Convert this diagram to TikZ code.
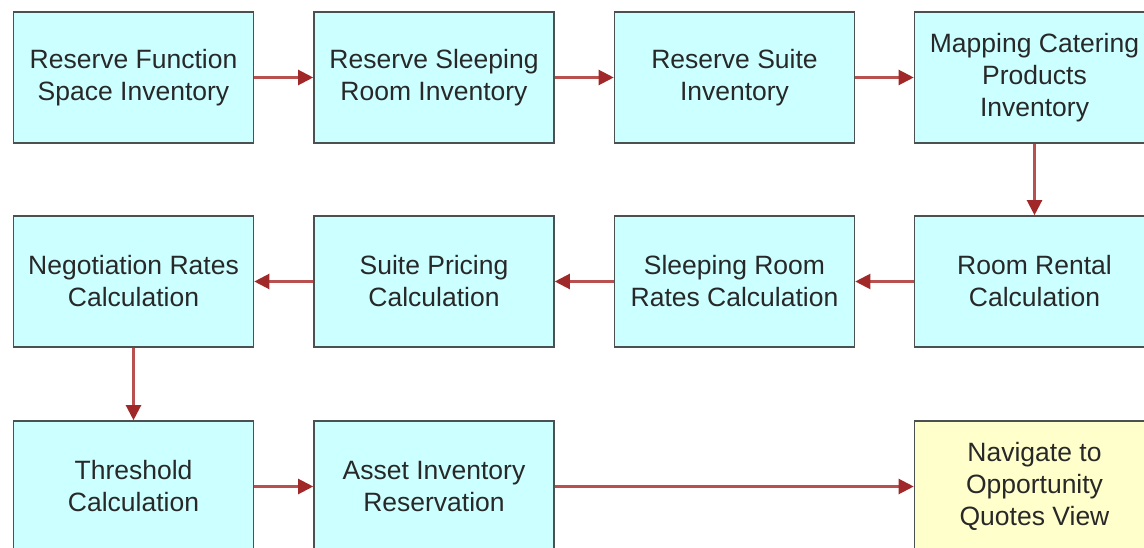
\documentclass[tikz,border=0pt]{standalone}
\usepackage{fontspec}
\setmainfont{Liberation Sans}
\usetikzlibrary{arrows.meta}
\definecolor{boxfill}{RGB}{204,255,255}
\definecolor{endfill}{RGB}{255,255,204}
\definecolor{boxline}{RGB}{75,80,80}
\definecolor{txt}{RGB}{40,40,40}
\definecolor{arrline}{RGB}{185,80,80}
\definecolor{arrhead}{RGB}{160,40,40}
\tikzset{
  stepbox/.style={draw=boxline, line width=1.6pt, fill=boxfill, minimum width=240pt, minimum height=131pt,
    inner sep=0pt, align=center, text=txt, font=\fontsize{26.5pt}{32pt}\selectfont},
  endbox/.style={stepbox, fill=endfill},
  flow/.style={draw=arrline, line width=2.2pt, -{Triangle[length=15pt,width=15pt,color=arrhead]}}
}
\begin{document}
\begin{tikzpicture}[x=1pt,y=-1pt]
\useasboundingbox (0,0) rectangle (1144,548);
\node[stepbox] (a) at (133.5,77.5) {Reserve Function\\Space Inventory};
\node[stepbox] (b) at (434,77.5) {Reserve Sleeping\\Room Inventory};
\node[stepbox] (c) at (734.5,77.5) {Reserve Suite\\Inventory};
\node[stepbox] (d) at (1034.5,77.5) {Mapping Catering\\Products\\Inventory};
\node[stepbox] (e) at (133.5,281.5) {Negotiation Rates\\Calculation};
\node[stepbox] (f) at (434,281.5) {Suite Pricing\\Calculation};
\node[stepbox] (g) at (734.5,281.5) {Sleeping Room\\Rates Calculation};
\node[stepbox] (h) at (1034.5,281.5) {Room Rental\\Calculation};
\node[stepbox] (i) at (133.5,486.5) {Threshold\\Calculation};
\node[stepbox] (j) at (434,486.5) {Asset Inventory\\Reservation};
\node[endbox] (k) at (1034.5,486.5) {Navigate to\\Opportunity\\Quotes View};
\draw[flow] (a) -- (b);
\draw[flow] (b) -- (c);
\draw[flow] (c) -- (d);
\draw[flow] (d) -- (h);
\draw[flow] (h) -- (g);
\draw[flow] (g) -- (f);
\draw[flow] (f) -- (e);
\draw[flow] (e) -- (i);
\draw[flow] (i) -- (j);
\draw[flow] (j) -- (k);
\end{tikzpicture}
\end{document}
